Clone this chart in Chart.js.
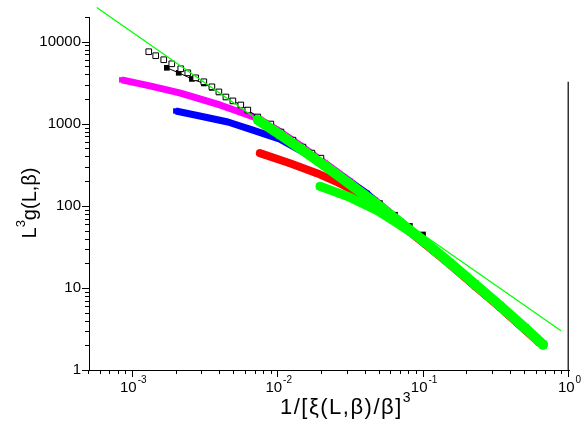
<!DOCTYPE html>
<html>
<head>
<meta charset="utf-8">
<script src="https://cdn.jsdelivr.net/npm/chart.js@4.4.0/dist/chart.umd.min.js"></script>
<style>
  body { margin: 0; background: #fff; }
  #wrap { width: 584px; height: 428px; }
</style>
</head>
<body>
<div id="wrap"><canvas id="c" width="584" height="428"></canvas></div>
<script>
// open squares
const openX = [0.001288, 0.001438, 0.001633, 0.001854, 0.002138, 0.00239, 0.00271, 0.00308, 0.0035, 0.00391, 0.00437,
  0.00488, 0.00553, 0.00618, 0.00724, 0.0089, 0.01044, 0.01263, 0.01479, 0.01706, 0.01968];
const openY = [7550, 6750, 6030, 5380, 4680, 4180, 3630, 3250, 2820, 2445, 2120,
  1900, 1695, 1470, 1210, 993, 793, 632, 520, 439, 381];

// filled squares joined by a thin line
const filledX = [0.001714, 0.00207, 0.00255, 0.00308, 0.0035, 0.00391, 0.00437, 0.00488, 0.00553, 0.00618,
  0.00724, 0.0089, 0.01044, 0.01263, 0.01479, 0.01706, 0.01968, 0.0311, 0.0395, 0.0501, 0.0636, 0.0805, 0.0991];
const filledY = [4810, 4180, 3520, 3100, 2740, 2420, 2110, 1900, 1695, 1470,
  1210, 993, 793, 632, 520, 439, 381, 190, 140, 108, 78, 57, 44.8];

const magentaX = [0.00084, 0.00131, 0.0021, 0.00289, 0.00397, 0.00545, 0.00748, 0.01028, 0.0141, 0.0209,
  0.0311, 0.0463, 0.0688, 0.1023, 0.1521, 0.2259, 0.3358, 0.4989, 0.62];
const magentaY = [3430, 2900, 2380, 2010, 1695, 1393, 1140, 804, 548, 335,
  201, 118, 66, 36.7, 20.4, 11.2, 6.1, 3.25, 2.3];

const blueX = [0.001977, 0.00289, 0.00451, 0.00638, 0.01028, 0.0141, 0.01845, 0.02786, 0.0407, 0.0463,
  0.0688, 0.1023, 0.1521, 0.2259, 0.3358, 0.4989, 0.62];
const blueY = [1432, 1245, 1050, 862, 651, 477, 361, 223, 142, 114,
  64.4, 36.4, 20.3, 11.1, 6.07, 3.22, 2.28];

const redX = [0.00748, 0.01205, 0.01845, 0.0266, 0.0348, 0.0463, 0.0688, 0.1023, 0.1521, 0.2259, 0.3358, 0.4989, 0.62];
const redY = [439, 331, 250, 188, 146, 107, 60, 34.2, 19.2, 10.5, 5.77, 3.08, 2.18];

const greenAX = [0.00724, 0.01028, 0.0141, 0.02094, 0.03112, 0.04634, 0.06883, 0.1023, 0.1521, 0.2259, 0.3358, 0.4989, 0.6637];
const greenAY = [1112, 738, 503, 307, 184, 109, 63.1, 36.0, 20.2, 11.1, 6.07, 3.24, 2.04];

const greenBX = [0.01937, 0.03112, 0.0478, 0.0615, 0.0944, 0.1521, 0.2259, 0.3358, 0.4989, 0.6637];
const greenBY = [173, 127, 88.1, 66.5, 40.4, 19.6, 10.9, 5.95, 3.18, 2.0];

// power-law fit
const fitX = [0.000565, 0.881];
const fitY = [26060, 3.0];

const xTicks = [0.001, 0.01, 0.1, 1];
const xTickExp = ['-3', '-2', '-1', '0'];
const yTicks = [1, 10, 100, 1000, 10000];
const yTickLabels = ['1', '10', '100', '1000', '10000'];

const FONT = '"Liberation Sans", Arial, sans-serif';
const pts = (xs, ys) => xs.map((x, i) => ({ x: x, y: ys[i] }));

function band(xs, ys, color, width, order, cap) {
  return {
    data: pts(xs, ys), showLine: true, order: order,
    borderColor: color, backgroundColor: color, borderWidth: width,
    borderCapStyle: cap || 'round', borderJoinStyle: 'round',
    pointStyle: 'rect', pointRadius: width * 0.55, pointBorderWidth: 0
  };
}

// draws ticks, labels with superscripts, titles and the short right frame line
const axisDeco = {
  id: 'axisDeco',
  afterDraw(chart) {
    const { ctx, chartArea: a, scales: { x, y } } = chart;
    ctx.save();
    ctx.strokeStyle = '#000';
    ctx.lineWidth = 1;
    for (let e = 0; e <= 4; e++) {
      for (let m = 1; m <= 9; m++) {
        const v = m * Math.pow(10, e);
        if (v > y.max) break;
        const py = Math.round(y.getPixelForValue(v)) + 0.5;
        const len = m === 1 ? 7 : 4;
        ctx.beginPath(); ctx.moveTo(a.left - len, py); ctx.lineTo(a.left, py); ctx.stroke();
      }
    }
    for (let e = -4; e <= 0; e++) {
      for (let m = 1; m <= 9; m++) {
        const v = m * Math.pow(10, e);
        if (v < x.min * 0.999 || v > x.max * 1.001) continue;
        const px = Math.round(x.getPixelForValue(v)) - 0.5;
        const len = m === 1 ? 7 : 4;
        ctx.beginPath(); ctx.moveTo(px, a.bottom); ctx.lineTo(px, a.bottom + len); ctx.stroke();
      }
    }

    ctx.fillStyle = '#000';
    ctx.font = '15px ' + FONT;
    ctx.textAlign = 'right';
    ctx.textBaseline = 'middle';
    yTicks.forEach((v, i) => ctx.fillText(yTickLabels[i], a.left - 8, y.getPixelForValue(v)));

    ctx.textAlign = 'left';
    ctx.textBaseline = 'alphabetic';
    xTicks.forEach((v, i) => {
      ctx.font = '15px ' + FONT;
      const wb = ctx.measureText('10').width;
      ctx.font = '10px ' + FONT;
      const ws = ctx.measureText(xTickExp[i]).width;
      const x0 = x.getPixelForValue(v) - (wb + ws) / 2;
      ctx.font = '15px ' + FONT;
      ctx.fillText('10', x0, 392);
      ctx.font = '10px ' + FONT;
      ctx.fillText(xTickExp[i], x0 + wb + 1, 383);
    });

    // x title: 1/[xi(L,beta)/beta]^3
    ctx.letterSpacing = '1.5px';
    ctx.font = '22px ' + FONT;
    const xt = '1/[\u03BE(L,\u03B2)/\u03B2]';
    const wx = ctx.measureText(xt).width;
    ctx.font = '14px ' + FONT;
    const w3 = ctx.measureText('3').width;
    const tx = 346 - (wx + w3) / 2;
    ctx.font = '22px ' + FONT;
    ctx.fillText(xt, tx, 414);
    ctx.font = '14px ' + FONT;
    ctx.fillText('3', tx + wx, 402);
    ctx.letterSpacing = '0px';

    // y title: L^3 g(L,beta), rotated
    ctx.translate(36, 203);
    ctx.rotate(-Math.PI / 2);
    ctx.font = '20px ' + FONT;
    const wL = ctx.measureText('L').width;
    const rest = 'g(L,\u03B2)';
    const wr = ctx.measureText(rest).width;
    ctx.font = '13px ' + FONT;
    const ws3 = ctx.measureText('3').width;
    const ty = -(wL + ws3 + wr) / 2;
    ctx.font = '20px ' + FONT;
    ctx.fillText('L', ty, 0);
    ctx.font = '13px ' + FONT;
    ctx.fillText('3', ty + wL, -11);
    ctx.font = '20px ' + FONT;
    ctx.fillText(rest, ty + wL + ws3, 0);
    ctx.setTransform(1, 0, 0, 1, 0, 0);

    // short frame line on the right
    ctx.strokeStyle = '#333';
    ctx.lineWidth = 1.5;
    const rx = a.right - 0.75;
    ctx.beginPath(); ctx.moveTo(rx, y.getPixelForValue(3250)); ctx.lineTo(rx, a.bottom); ctx.stroke();
    ctx.restore();
  }
};

new Chart(document.getElementById('c'), {
  type: 'scatter',
  data: {
    datasets: [
      { data: pts(fitX, fitY), showLine: true, borderColor: '#00ff00', borderWidth: 1.3, pointRadius: 0, clip: false, order: 0 },
      band(greenAX, greenAY, '#00ff00', 10, 1),
      band(greenBX, greenBY, '#00ff00', 9, 2),
      { data: pts(openX, openY), showLine: false, pointStyle: 'rect', pointRadius: 4,
        pointBackgroundColor: '#fff', pointBorderColor: '#000', pointBorderWidth: 1, order: 3 },
      { data: pts(filledX, filledY), showLine: true, borderColor: '#000', borderWidth: 1,
        pointStyle: 'rect', pointRadius: 4, pointBackgroundColor: '#000', pointBorderWidth: 0, order: 4 },
      band(redX, redY, '#ff0000', 8, 5),
      band(blueX, blueY, '#0000ff', 7, 6, 'butt'),
      band(magentaX, magentaY, '#ff00ff', 7, 7, 'butt')
    ]
  },
  options: {
    responsive: false,
    animation: false,
    layout: { padding: { top: 17, right: 15, left: 0, bottom: 0 } },
    plugins: { legend: { display: false }, tooltip: { enabled: false } },
    scales: {
      x: {
        type: 'logarithmic', min: 0.0005, max: 1,
        grid: { display: false }, border: { color: '#000', width: 1 },
        ticks: { display: false },
        afterFit: s => { s.height = 58; }
      },
      y: {
        type: 'logarithmic', min: 1, max: 20000,
        grid: { display: false }, border: { color: '#000', width: 1 },
        ticks: { display: false },
        afterFit: s => { s.width = 89; }
      }
    }
  },
  plugins: [axisDeco]
});
</script>
</body>
</html>
